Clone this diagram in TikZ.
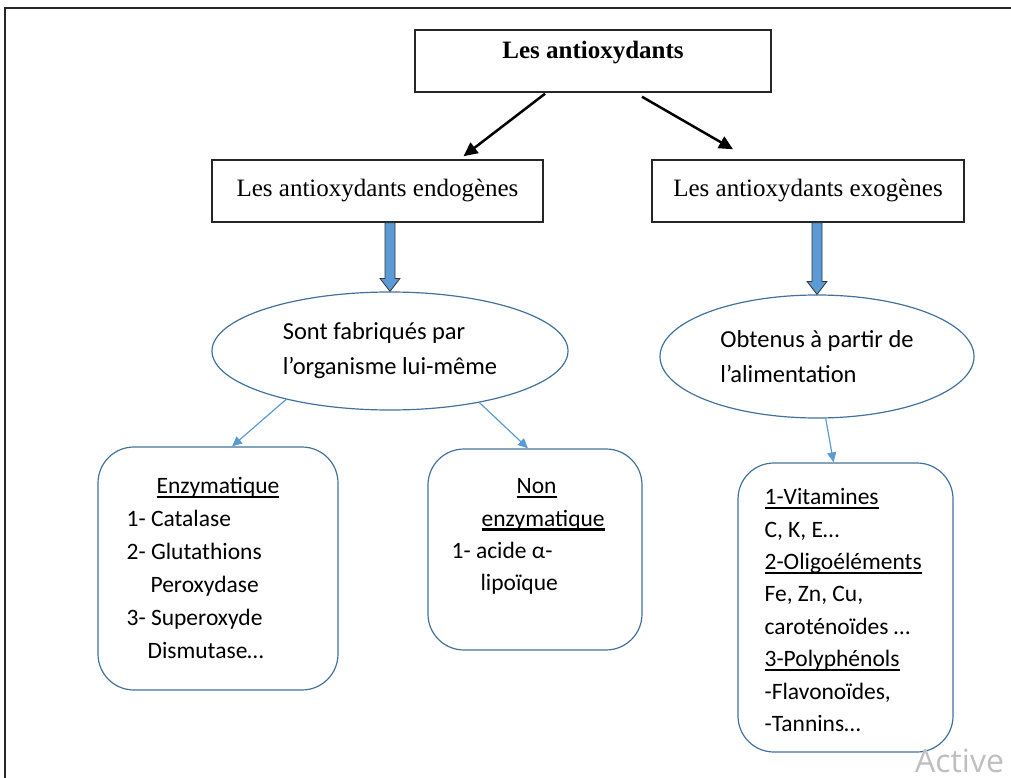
\documentclass[tikz,border=0pt]{standalone}
\usepackage{fontspec}
\setmainfont{Liberation Serif}
\newfontfamily\calib{Carlito}
\newfontfamily\wmfont{Open Sans}
\newcommand{\souligne}[1]{\leavevmode\setbox0=\hbox{#1}\rlap{\rule[-4.5pt]{\wd0}{2.2pt}}\box0}
\usetikzlibrary{arrows.meta,positioning,calc,shapes.geometric}
\definecolor{boxblue}{RGB}{65,113,156}
\definecolor{arrblue}{RGB}{91,155,213}

\begin{document}
\begin{tikzpicture}[x=1pt,y=-1pt,
  titlebox/.style={draw=black!85, line width=1.5pt, minimum height=62pt, inner sep=0pt,
                   font=\fontsize{25}{30}\selectfont},
  bulle/.style={ellipse, draw=boxblue, line width=1.2pt, inner sep=0pt, align=left,
                font=\calib\fontsize{24.5}{35}\selectfont},
  listbox/.style={draw=boxblue, line width=1.2pt, rounded corners=36pt, inner sep=0pt},
  listtext/.style={anchor=north west, inner sep=0pt, align=left,
                   font=\calib\fontsize{23.5}{32.4}\selectfont},
  blackarrow/.style={line width=2.5pt, -{Triangle[length=14pt,width=13pt]}},
  thinarrow/.style={draw=arrblue, line width=1.2pt, -{Triangle[length=10pt,width=9pt]}},
  blockarrow/.style={draw=black!80, fill=arrblue, line width=0.8pt}]
  \useasboundingbox (0,0) rectangle (1011,778);
  % Frame
  \draw[line width=1.8pt, black!85] (5,778) -- (5,8) -- (1011,8);
  % Boxes
  \node[titlebox, minimum width=356pt, text height=14pt, text depth=18pt] (top) at (593,61)
    {\textbf{Les antioxydants}};
  \node[titlebox, minimum width=331pt] (endo) at (377.5,191) {Les antioxydants endogènes};
  \node[titlebox, minimum width=312pt] (exo) at (808,191) {Les antioxydants exogènes};
  % Ellipses
  \node[bulle, minimum width=356pt, minimum height=118pt] (ell1) at (390,351)
    {Sont fabriqués par\\l’organisme lui-même};
  \node[bulle, minimum width=314pt, minimum height=123pt] (ell2) at (817,356.5)
    {Obtenus à partir de\\l’alimentation};
  % Lists
  \node[listbox, minimum width=240pt, minimum height=243pt] (enz) at (218,568.5) {};
  \node[listbox, minimum width=214pt, minimum height=201pt] (non) at (535,549.5) {};
  \node[listbox, minimum width=215pt, minimum height=289pt] (vit) at (845.5,607.5) {};
  \node[listtext, font=\calib\fontsize{23.5}{33}\selectfont] (enztxt) at ($(enz.north west)+(29,31)$)
    {\hspace*{30pt}\souligne{Enzymatique}\\
     1- Catalase\\
     2- Glutathions\\
     \hspace*{24pt}Peroxydase\\
     3- Superoxyde\\
     \hspace*{21pt}Dismutase…};
  \node[listtext] (nontxt) at ($(non.north west)+(24,30)$)
    {\hspace*{65pt}\souligne{Non}\\
     \hspace*{30pt}\souligne{enzymatique}\\
     1- acide α-\\
     \hspace*{29pt}lipoïque};
  \node[listtext] (vittxt) at ($(vit.north west)+(27,26)$)
    {\souligne{1-Vitamines}\\
     C, K, E…\\
     \souligne{2-Oligoéléments}\\
     Fe, Zn, Cu,\\
     caroténoïdes …\\
     \souligne{3-Polyphénols}\\
     -Flavonoïdes,\\
     -Tannins…};
  % Arrows
  \draw[blackarrow] ($(top.south)+(-48,1)$) -- ($(endo.north)+(86,-3)$);
  \draw[blackarrow] ($(top.south)+(49,4)$) -- ($(exo.north)+(-75,-10)$);
  \coordinate (b1) at (ell1.north |- endo.south);
  \coordinate (b2) at (ell2.north |- exo.south);
  \draw[blockarrow] ($(b1)+(-5,0)$) -- ($(ell1.north)+(-5,-13)$) -- ($(ell1.north)+(-10,-13)$)
    -- (ell1.north) -- ($(ell1.north)+(10,-13)$) -- ($(ell1.north)+(5,-13)$) -- ($(b1)+(5,0)$) -- cycle;
  \draw[blockarrow] ($(b2)+(-5,0)$) -- ($(ell2.north)+(-5,-13)$) -- ($(ell2.north)+(-10,-13)$)
    -- (ell2.north) -- ($(ell2.north)+(10,-13)$) -- ($(ell2.north)+(5,-13)$) -- ($(b2)+(5,0)$) -- cycle;
  \draw[thinarrow] (ell1.205) -- ($(enz.north)+(14,0)$);
  \draw[thinarrow] (ell1.330) -- ($(non.north)+(-7,0)$);
  \draw[thinarrow] (ell2.278) -- ($(vit.north)+(-12,0)$);
  % Watermark
  \node[font=\wmfont\fontsize{32}{32}\selectfont, text=black!25, anchor=base west, inner sep=0pt]
    (wm) at (915,772) {Active};
\end{tikzpicture}
\end{document}
